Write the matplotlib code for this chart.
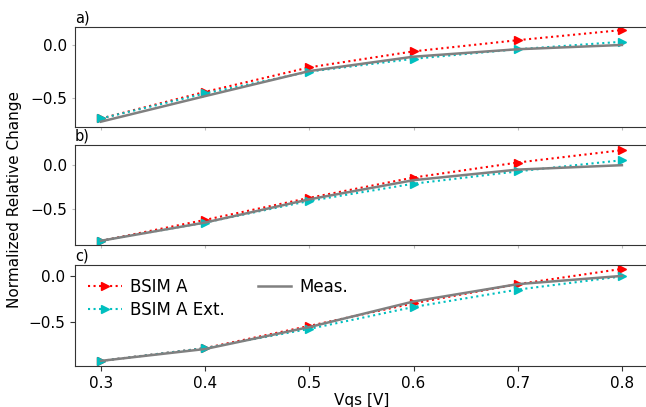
import matplotlib.pyplot as plt
import numpy as np

# data
vgs = [0.3, 0.4, 0.5, 0.6, 0.7, 0.8]
panels = ['a)', 'b)', 'c)']

bsim_a = [
    [-0.69, -0.44, -0.21, -0.06, 0.045, 0.14],
    [-0.857, -0.62, -0.37, -0.14, 0.03, 0.17],
    [-0.93, -0.79, -0.547, -0.30, -0.09, 0.077],
]
bsim_a_ext = [
    [-0.69, -0.455, -0.25, -0.13, -0.04, 0.03],
    [-0.857, -0.65, -0.405, -0.21, -0.07, 0.056],
    [-0.93, -0.79, -0.58, -0.34, -0.15, -0.005],
]
meas = [
    [-0.72, -0.48, -0.245, -0.11, -0.04, 0.0],
    [-0.857, -0.65, -0.387, -0.17, -0.05, 0.0],
    [-0.93, -0.80, -0.56, -0.28, -0.09, 0.0],
]

fig = plt.figure(figsize=(6.46, 4.07), dpi=100)
left, right = 0.116, 1.003
tops = [0.934, 0.644, 0.349]
bottoms = [0.688, 0.398, 0.101]

axes = []
for i in range(3):
    ax = fig.add_axes([left, bottoms[i], right - left, tops[i] - bottoms[i]],
                      sharex=axes[0] if axes else None)
    axes.append(ax)
    ax.plot(vgs, bsim_a[i], ':', color='red', marker='>', markersize=6,
            linewidth=1.5, label='BSIM A')
    ax.plot(vgs, bsim_a_ext[i], ':', color='c', marker='>', markersize=6,
            linewidth=1.5, label='BSIM A Ext.')
    ax.plot(vgs, meas[i], '-', color='grey', linewidth=1.8, label='Meas.')
    ax.set_title(panels[i], loc='left', fontsize=10.5, pad=3)
    ax.set_yticks([0.0, -0.5])
    ax.tick_params(labelsize=11, color='#bbbbbb')
    for s in ax.spines.values():
        s.set_color('#333333')
    if i < 2:
        ax.tick_params(labelbottom=False, length=2)

axes[0].set_ylim(-0.77, 0.17)
axes[1].set_ylim(-0.905, 0.23)
axes[2].set_ylim(-0.985, 0.12)
axes[2].set_xticks(vgs)
axes[2].set_xlim(0.275, 0.825)
axes[2].set_xlabel('Vqs [V]', fontsize=11, labelpad=2)
axes[2].tick_params(color='#333333')
axes[2].legend(ncol=2, loc='upper left', frameon=False, fontsize=12,
               labelspacing=0.3, handletextpad=0.5, borderaxespad=0.4)

fig.text(0.022, 0.51, 'Normalized Relative Change', rotation=90,
         va='center', ha='center', fontsize=11)

fig.savefig('out.png', dpi=100)
